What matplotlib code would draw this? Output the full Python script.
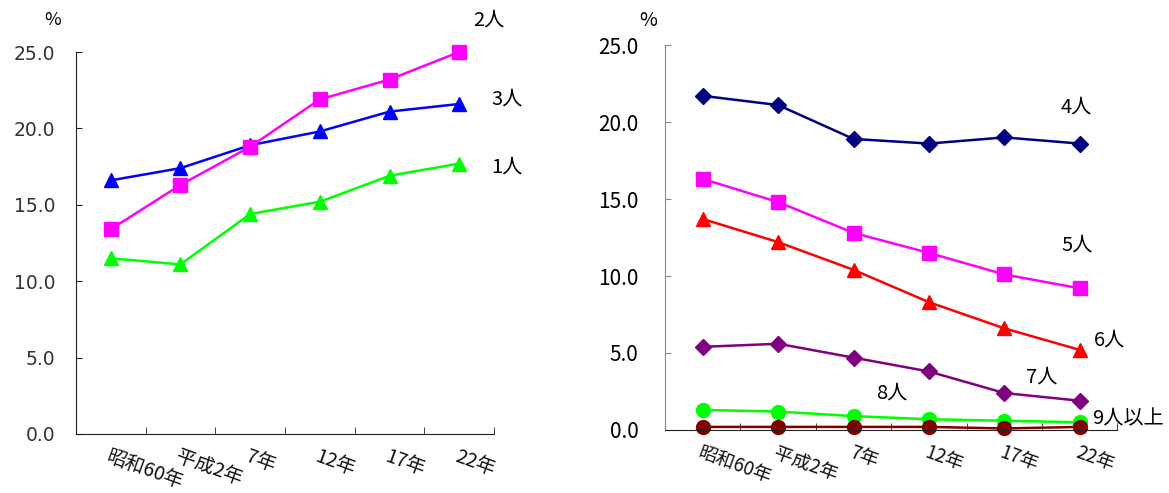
import matplotlib
matplotlib.use('Agg')
import matplotlib.pyplot as plt
import numpy as np

plt.rcParams['font.family'] = ['Noto Sans CJK JP', 'DejaVu Sans']

categories = ['昭和60年', '平成2年', '7年', '12年', '17年', '22年']

# left chart
left_names = ['2人', '3人', '1人']
two = [13.4, 16.3, 18.8, 21.9, 23.2, 25.0]
three = [16.6, 17.4, 18.9, 19.8, 21.1, 21.6]
one = [11.5, 11.1, 14.4, 15.2, 16.9, 17.7]

# right chart
right_names = ['4人', '5人', '6人', '7人', '8人', '9人以上']
four = [21.7, 21.1, 18.9, 18.6, 19.0, 18.6]
five = [16.3, 14.8, 12.8, 11.5, 10.1, 9.2]
six = [13.7, 12.2, 10.4, 8.3, 6.6, 5.2]
seven = [5.4, 5.6, 4.7, 3.8, 2.4, 1.9]
eight = [1.3, 1.2, 0.9, 0.7, 0.6, 0.5]
nine_plus = [0.2, 0.2, 0.2, 0.2, 0.1, 0.2]

x = np.arange(len(categories))

fig = plt.figure(figsize=(11.69, 4.93), dpi=100)
ax1 = fig.add_axes([0.065, 0.1197, 0.3576, 0.7748])
ax2 = fig.add_axes([0.5689, 0.1278, 0.3870, 0.7809])


def style_axes(ax, spine_color, ylab_kw, ypad, xsize, xpad):
    ax.set_xlim(-0.5, len(categories) - 0.5)
    ax.set_ylim(0, 25)
    for s in ['top', 'right']:
        ax.spines[s].set_visible(False)
    ax.spines['left'].set_color(spine_color)
    ax.spines['bottom'].set_color('#222222')
    ax.set_yticks(np.arange(0, 26, 5))
    ax.set_yticklabels(['%.1f' % v for v in np.arange(0, 26, 5)], **ylab_kw)
    ax.tick_params(axis='y', direction='in', length=4, pad=ypad, color=spine_color)
    ax.set_xticks(x)
    ax.set_xticklabels(categories, rotation=-20, ha='left', va='top',
                       rotation_mode='anchor', fontsize=xsize, color='#111111')
    ax.tick_params(axis='x', which='major', length=0, pad=xpad)
    ax.set_xticks(np.arange(-0.5, len(categories)), minor=True)
    ax.tick_params(axis='x', which='minor', direction='in', length=5, color='#222222')


style_axes(ax1, '#222222',
           dict(fontsize=13.5, color='#333333', family='DejaVu Sans'), 15, 14, 9)
style_axes(ax2, '#888888',
           dict(fontsize=15, color='#000000'), 19, 13.5, 9)

kw = dict(lw=1.8, clip_on=False)
ax1.plot(x, one, color='#00FF00', marker='^', ms=10, **kw)
ax1.plot(x, three, color='#0000FF', marker='^', ms=10, **kw)
ax1.plot(x, two, color='#FF00FF', marker='s', ms=10, **kw)

ax1.text(-0.84, 27.1, '%', fontsize=13, ha='center', va='center', clip_on=False)
ax1.text(5.42, 27.1, left_names[0], fontsize=14.5, ha='center', va='center')
ax1.text(5.69, 21.9, left_names[1], fontsize=14.5, ha='center', va='center')
ax1.text(5.69, 17.5, left_names[2], fontsize=14.5, ha='center', va='center')

ax2.plot(x, four, color='#000080', marker='D', ms=8, **kw)
ax2.plot(x, five, color='#FF00FF', marker='s', ms=10, **kw)
ax2.plot(x, six, color='#FF0000', marker='^', ms=10, **kw)
ax2.plot(x, seven, color='#800080', marker='D', ms=8, **kw)
ax2.plot(x, eight, color='#00FF00', marker='o', ms=10, **kw)
ax2.plot(x, nine_plus, color='#800000', marker='o', ms=10, **kw)

ax2.text(-0.725, 26.6, '%', fontsize=14, ha='center', va='center')
label_pos = [(4.96, 21.0), (4.96, 12.0), (5.40, 5.84), (4.5, 3.44), (2.51, 2.4), (5.64, 0.72)]
for name, (lx, ly) in zip(right_names, label_pos):
    ax2.text(lx, ly, name, fontsize=14.5, ha='center', va='center', clip_on=False)

fig.savefig('out.png', dpi=100)
